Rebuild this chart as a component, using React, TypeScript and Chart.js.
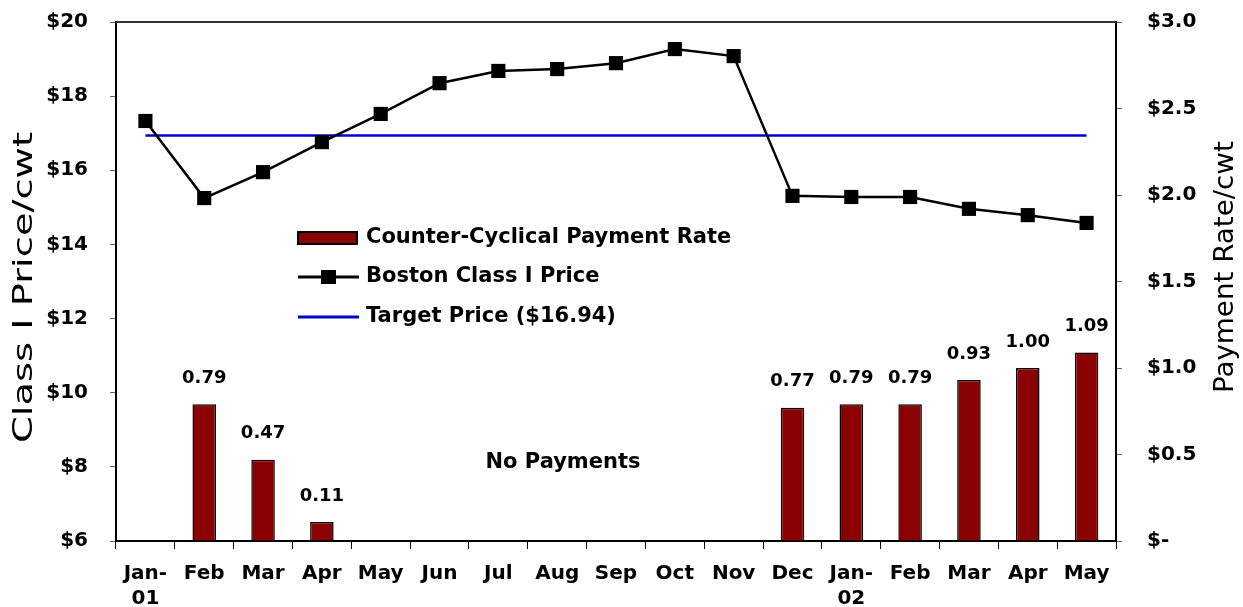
import React, { useEffect, useRef } from 'react';
import { Chart, registerables } from 'chart.js';

Chart.register(...registerables);

// ---- data ----
const categories: (string | string[])[] = [
  ['Jan-', '01'], 'Feb', 'Mar', 'Apr', 'May', 'Jun', 'Jul', 'Aug', 'Sep', 'Oct', 'Nov', 'Dec',
  ['Jan-', '02'], 'Feb', 'Mar', 'Apr', 'May',
];
const classIPrice = [17.33, 15.25, 15.95, 16.76, 17.52, 18.35, 18.68, 18.73, 18.89, 19.27, 19.08, 15.31, 15.28, 15.28, 14.96, 14.79, 14.58];
const paymentRate: (number | null)[] = [null, 0.79, 0.47, 0.11, null, null, null, null, null, null, null, 0.77, 0.79, 0.79, 0.93, 1.0, 1.09];
const targetPrice = 16.94;
const targetSeries = categories.map(() => targetPrice);

const leftAxisTitle = 'Class I Price/cwt';
const rightAxisTitle = 'Payment Rate/cwt';
const legendLabels = ['Counter-Cyclical Payment Rate', 'Boston Class I Price', 'Target Price ($16.94)'];
const noPaymentsText = 'No Payments';

// ---- styles ----
const FONT = 'DejaVu Sans';
const BAR_COLOR = '#8B0000';
const TARGET_COLOR = '#0000CC';

function drawVerticalTitle(
  ctx: CanvasRenderingContext2D,
  text: string,
  fitText: string,
  baselineX: number,
  startY: number,
  fitLen: number,
  font: string,
) {
  ctx.save();
  ctx.font = font;
  const w = ctx.measureText(fitText).width;
  const s = fitLen / w;
  ctx.translate(baselineX, startY);
  ctx.rotate(-Math.PI / 2);
  ctx.scale(s, 1);
  ctx.textAlign = 'left';
  ctx.textBaseline = 'alphabetic';
  ctx.fillStyle = '#000';
  ctx.fillText(text, 0, 0);
  ctx.restore();
}

const customPlugin = {
  id: 'customDecor',
  beforeDraw(chart: any) {
    const { ctx, width, height } = chart;
    ctx.save();
    ctx.fillStyle = '#fff';
    ctx.fillRect(0, 0, width, height);
    ctx.restore();
  },
  afterDraw(chart: any) {
    const ctx: CanvasRenderingContext2D = chart.ctx;
    const ca = chart.chartArea;

    // top frame line
    ctx.save();
    ctx.strokeStyle = '#333';
    ctx.lineWidth = 2;
    ctx.beginPath();
    ctx.moveTo(ca.left, ca.top);
    ctx.lineTo(ca.right, ca.top);
    ctx.stroke();
    ctx.restore();

    // bar value labels
    ctx.save();
    ctx.font = `bold 18px "${FONT}"`;
    ctx.fillStyle = '#000';
    ctx.textAlign = 'center';
    ctx.textBaseline = 'middle';
    const meta = chart.getDatasetMeta(0);
    meta.data.forEach((el: any, i: number) => {
      const v = paymentRate[i];
      if (v == null) return;
      ctx.fillText(v.toFixed(2), el.x, el.y - 26);
    });
    ctx.restore();

    // "No Payments"
    ctx.save();
    ctx.font = `bold 21px "${FONT}"`;
    ctx.fillStyle = '#000';
    ctx.textAlign = 'center';
    ctx.textBaseline = 'middle';
    ctx.fillText(noPaymentsText, ca.left + 447, ca.top + 441);
    ctx.restore();

    // legend
    const lx = ca.left + 182;
    const tx = ca.left + 250;
    const rows = [ca.top + 216, ca.top + 255, ca.top + 295];
    ctx.save();
    // row 1: bar swatch
    ctx.fillStyle = BAR_COLOR;
    ctx.fillRect(lx, rows[0] - 6, 59, 12);
    ctx.strokeStyle = '#000';
    ctx.lineWidth = 2;
    ctx.strokeRect(lx, rows[0] - 6, 59, 12);
    // row 2: black line with square marker
    ctx.beginPath();
    ctx.moveTo(lx, rows[1]);
    ctx.lineTo(lx + 61, rows[1]);
    ctx.lineWidth = 3;
    ctx.strokeStyle = '#000';
    ctx.stroke();
    ctx.fillStyle = '#000';
    ctx.fillRect(lx + 23, rows[1] - 7, 15, 14);
    // row 3: blue line
    ctx.beginPath();
    ctx.moveTo(lx, rows[2]);
    ctx.lineTo(lx + 61, rows[2]);
    ctx.lineWidth = 3;
    ctx.strokeStyle = TARGET_COLOR;
    ctx.stroke();
    // texts
    ctx.font = `bold 21px "${FONT}"`;
    ctx.fillStyle = '#000';
    ctx.textAlign = 'left';
    ctx.textBaseline = 'middle';
    legendLabels.forEach((t, i) => ctx.fillText(t, tx, rows[i]));
    ctx.restore();

    // axis titles (both read bottom-to-top)
    const titleFont = `26px "${FONT}"`;
    drawVerticalTitle(ctx, leftAxisTitle, 'Class I Price/cw', 32, 443, 296, titleFont);
    drawVerticalTitle(ctx, rightAxisTitle, 'Payment Rate/cw', 1233, 393, 241, titleFont);
  },
};

export default function App() {
  const canvasRef = useRef<HTMLCanvasElement | null>(null);

  useEffect(() => {
    if (!canvasRef.current) return;
    const tickFont = { family: FONT, size: 20, weight: 'bold' as const, lineHeight: 1.25 };
    const fitY = (w: number) => (s: any) => {
      s.width = w;
      s.paddingTop = 0;
      s.paddingBottom = 0;
    };
    const chart = new Chart(canvasRef.current, {
      type: 'bar',
      data: {
        labels: categories as any,
        datasets: [
          {
            type: 'bar',
            label: legendLabels[0],
            data: paymentRate as any,
            yAxisID: 'y1',
            backgroundColor: BAR_COLOR,
            borderColor: '#000',
            borderWidth: 1.5,
            barPercentage: 0.4,
            categoryPercentage: 1,
            order: 3,
          },
          {
            type: 'line',
            label: legendLabels[1],
            data: classIPrice,
            yAxisID: 'y',
            borderColor: '#000',
            borderWidth: 2.5,
            backgroundColor: '#000',
            pointStyle: 'rect',
            pointRadius: 10,
            pointBackgroundColor: '#000',
            pointBorderColor: '#000',
            pointBorderWidth: 0,
            tension: 0,
            order: 1,
          } as any,
          {
            type: 'line',
            label: legendLabels[2],
            data: targetSeries,
            yAxisID: 'y',
            borderColor: TARGET_COLOR,
            borderWidth: 2.5,
            pointRadius: 0,
            tension: 0,
            order: 2,
          } as any,
        ],
      },
      options: {
        responsive: false,
        animation: false,
        layout: { padding: { top: 22, left: 0, right: 0, bottom: 0 } },
        plugins: {
          legend: { display: false },
          tooltip: { enabled: false },
          title: { display: false },
        },
        scales: {
          x: {
            type: 'category',
            offset: true,
            grid: { display: true, drawOnChartArea: false, drawTicks: true, tickLength: 8, color: '#000', offset: true },
            border: { display: true, color: '#000', width: 2 },
            ticks: { font: tickFont, color: '#000', padding: 12, maxRotation: 0, minRotation: 0, autoSkip: false },
            afterFit: (s: any) => {
              s.height = 66;
              s.paddingLeft = 0;
              s.paddingRight = 0;
            },
          },
          y: {
            position: 'left',
            min: 6,
            max: 20,
            ticks: { stepSize: 2, font: tickFont, color: '#000', padding: 22, callback: (v: any) => '$' + v },
            grid: { display: true, drawOnChartArea: false, drawTicks: true, tickLength: 6, color: '#666' },
            border: { display: true, color: '#000', width: 2 },
            afterFit: fitY(116),
          },
          y1: {
            position: 'right',
            min: 0,
            max: 3,
            ticks: {
              stepSize: 0.5,
              font: tickFont,
              color: '#000',
              padding: 25,
              callback: (v: any) => (Number(v) === 0 ? '$-' : '$' + Number(v).toFixed(1)),
            },
            grid: { display: true, drawOnChartArea: false, drawTicks: true, tickLength: 6, color: '#666' },
            border: { display: true, color: '#000', width: 2 },
            afterFit: fitY(127),
          },
        },
      } as any,
      plugins: [customPlugin],
    });
    return () => chart.destroy();
  }, []);

  return (
    <div style={{ position: 'fixed', left: 0, top: 0, width: 1243, height: 607, background: '#fff' }}>
      <canvas ref={canvasRef} width={1243} height={607} style={{ display: 'block' }} />
    </div>
  );
}
